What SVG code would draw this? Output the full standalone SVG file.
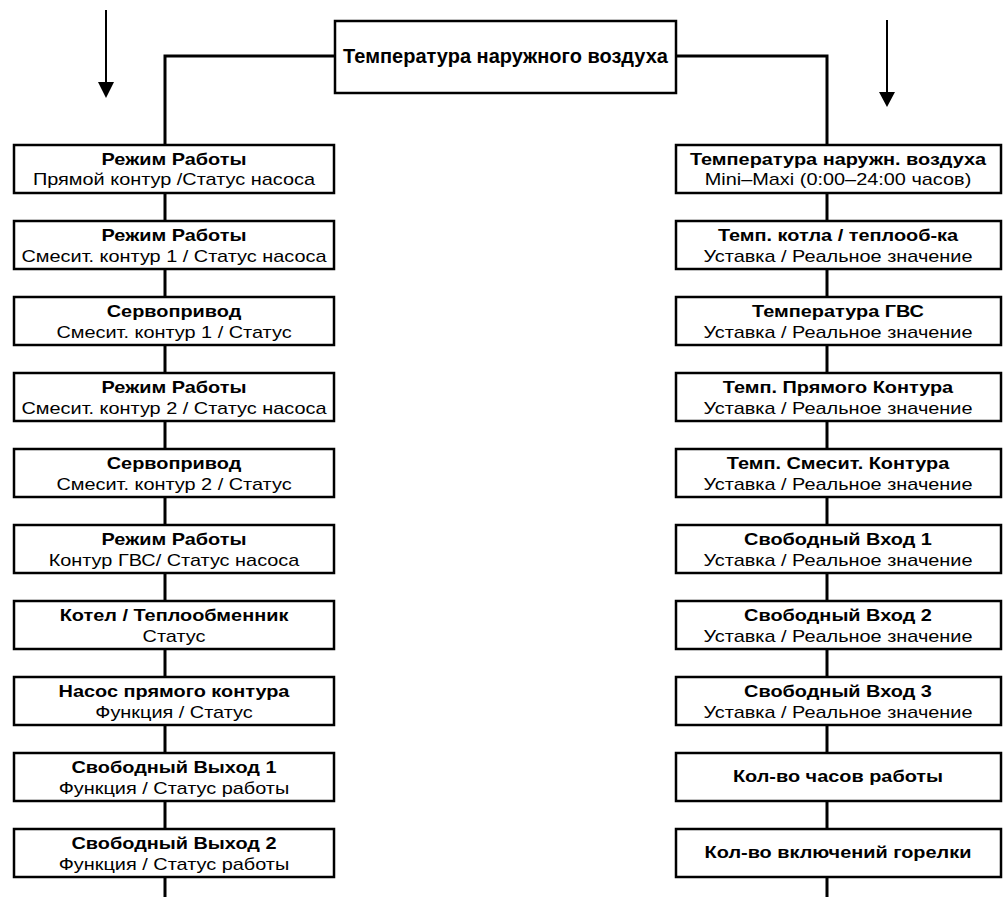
<svg xmlns="http://www.w3.org/2000/svg" width="1003" height="897" viewBox="0 0 1003 897">
<style>
  .box { fill: #fff; stroke: #000; stroke-width: 2.5; }
  .conn { fill: none; stroke: #000; stroke-width: 3; }
  .arr { fill: none; stroke: #000; stroke-width: 2; }
  text { font-family: "Liberation Sans", Arial, sans-serif; font-size: 17px; fill: #000; text-anchor: middle; }
  .b { font-weight: bold; }
  .t { font-size: 20px; }
</style>
<rect width="1003" height="897" fill="#fff"/>
<g id="connectors">
  <path class="conn" d="M335 56 H165 V897"/>
  <path class="conn" d="M676 56 H827 V897"/>
  <line class="arr" x1="106" y1="10" x2="106" y2="84"/>
  <polygon points="98,82 114,82 106,98" fill="#000"/>
  <line class="arr" x1="887" y1="20" x2="887" y2="94"/>
  <polygon points="879,92 895,92 887,107" fill="#000"/>
</g>
<g id="top">
  <rect class="box" x="335" y="21" width="341" height="72"/>
  <text class="b t" x="505.5" y="63">Температура наружного воздуха</text>
</g>
<g id="L1"><rect class="box" x="14" y="145" width="320" height="48"/><g transform="translate(174 0) scale(1.17 1)"><text class="b" x="0" y="165.5">Режим Работы</text><text x="0" y="185.5">Прямой контур /Статус насоса</text></g></g>
<g id="L2"><rect class="box" x="14" y="221" width="320" height="48"/><g transform="translate(174 0) scale(1.17 1)"><text class="b" x="0" y="241.5">Режим Работы</text><text x="0" y="262">Смесит. контур 1 / Статус насоса</text></g></g>
<g id="L3"><rect class="box" x="14" y="297" width="320" height="48"/><g transform="translate(174 0) scale(1.17 1)"><text class="b" x="0" y="317.5">Сервопривод</text><text x="0" y="338">Смесит. контур 1 / Статус</text></g></g>
<g id="L4"><rect class="box" x="14" y="373" width="320" height="48"/><g transform="translate(174 0) scale(1.17 1)"><text class="b" x="0" y="393.5">Режим Работы</text><text x="0" y="414">Смесит. контур 2 / Статус насоса</text></g></g>
<g id="L5"><rect class="box" x="14" y="449" width="320" height="48"/><g transform="translate(174 0) scale(1.17 1)"><text class="b" x="0" y="469.5">Сервопривод</text><text x="0" y="490">Смесит. контур 2 / Статус</text></g></g>
<g id="L6"><rect class="box" x="14" y="525" width="320" height="48"/><g transform="translate(174 0) scale(1.17 1)"><text class="b" x="0" y="545.5">Режим Работы</text><text x="0" y="566">Контур ГВС/ Статус насоса</text></g></g>
<g id="L7"><rect class="box" x="14" y="601" width="320" height="48"/><g transform="translate(174 0) scale(1.17 1)"><text class="b" x="0" y="621.5">Котел / Теплообменник</text><text x="0" y="642">Статус</text></g></g>
<g id="L8"><rect class="box" x="14" y="677" width="320" height="48"/><g transform="translate(174 0) scale(1.17 1)"><text class="b" x="0" y="697.5">Насос прямого контура</text><text x="0" y="718">Функция / Статус</text></g></g>
<g id="L9"><rect class="box" x="14" y="753" width="320" height="48"/><g transform="translate(174 0) scale(1.17 1)"><text class="b" x="0" y="773.5">Свободный Выход 1</text><text x="0" y="794">Функция / Статус работы</text></g></g>
<g id="L10"><rect class="box" x="14" y="829" width="320" height="48"/><g transform="translate(174 0) scale(1.17 1)"><text class="b" x="0" y="849.5">Свободный Выход 2</text><text x="0" y="870">Функция / Статус работы</text></g></g>
<g id="R1"><rect class="box" x="676" y="145" width="325" height="48"/><g transform="translate(838 0) scale(1.17 1)"><text class="b" x="0" y="165.5">Температура наружн. воздуха</text><text x="0" y="185.5">Mini–Maxi (0:00–24:00 часов)</text></g></g>
<g id="R2"><rect class="box" x="676" y="221" width="325" height="48"/><g transform="translate(838 0) scale(1.17 1)"><text class="b" x="0" y="241.5">Темп. котла / теплооб-ка</text><text x="0" y="262">Уставка / Реальное значение</text></g></g>
<g id="R3"><rect class="box" x="676" y="297" width="325" height="48"/><g transform="translate(838 0) scale(1.17 1)"><text class="b" x="0" y="317.5">Температура ГВС</text><text x="0" y="338">Уставка / Реальное значение</text></g></g>
<g id="R4"><rect class="box" x="676" y="373" width="325" height="48"/><g transform="translate(838 0) scale(1.17 1)"><text class="b" x="0" y="393.5">Темп. Прямого Контура</text><text x="0" y="414">Уставка / Реальное значение</text></g></g>
<g id="R5"><rect class="box" x="676" y="449" width="325" height="48"/><g transform="translate(838 0) scale(1.17 1)"><text class="b" x="0" y="469.5">Темп. Смесит. Контура</text><text x="0" y="490">Уставка / Реальное значение</text></g></g>
<g id="R6"><rect class="box" x="676" y="525" width="325" height="48"/><g transform="translate(838 0) scale(1.17 1)"><text class="b" x="0" y="545.5">Свободный Вход 1</text><text x="0" y="566">Уставка / Реальное значение</text></g></g>
<g id="R7"><rect class="box" x="676" y="601" width="325" height="48"/><g transform="translate(838 0) scale(1.17 1)"><text class="b" x="0" y="621.5">Свободный Вход 2</text><text x="0" y="642">Уставка / Реальное значение</text></g></g>
<g id="R8"><rect class="box" x="676" y="677" width="325" height="48"/><g transform="translate(838 0) scale(1.17 1)"><text class="b" x="0" y="697.5">Свободный Вход 3</text><text x="0" y="718">Уставка / Реальное значение</text></g></g>
<g id="R9"><rect class="box" x="676" y="753" width="325" height="48"/><g transform="translate(838 0) scale(1.17 1)"><text class="b" x="0" y="782.5">Кол-во часов работы</text></g></g>
<g id="R10"><rect class="box" x="676" y="829" width="325" height="48"/><g transform="translate(838 0) scale(1.17 1)"><text class="b" x="0" y="858.5">Кол-во включений горелки</text></g></g>
</svg>
